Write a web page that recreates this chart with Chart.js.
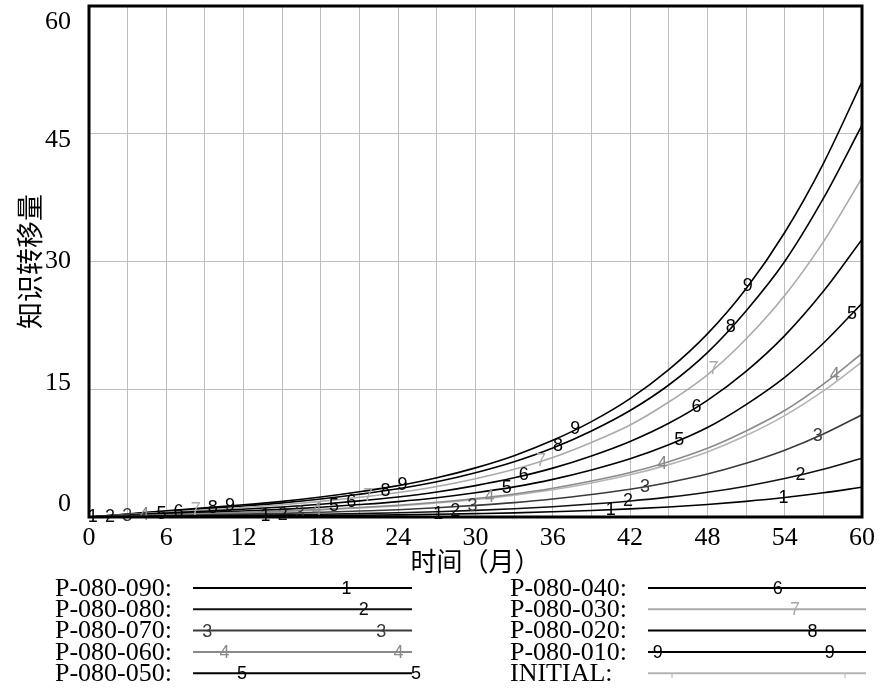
<!DOCTYPE html>
<html>
<head>
<meta charset="utf-8">
<script src="https://cdn.jsdelivr.net/npm/chart.js@4/dist/chart.umd.min.js"></script>
<style>
  html, body { margin: 0; padding: 0; background: #fff; }
  canvas { display: block; }
</style>
</head>
<body>
<canvas id="kt" width="886" height="691"></canvas>
<script>
// months on the x axis (read every 3 months)
const months = [0, 3, 6, 9, 12, 15, 18, 21, 24, 27, 30, 33, 36, 39, 42, 45, 48, 51, 54, 57, 60];

// knowledge transfer per scenario
const p090 = [0, 0.02, 0.05, 0.07, 0.1, 0.13, 0.16, 0.2, 0.25, 0.32, 0.4, 0.49, 0.62, 0.77, 0.95, 1.18, 1.47, 1.84, 2.29, 2.84, 3.5];
const p080 = [0, 0.05, 0.1, 0.14, 0.19, 0.25, 0.32, 0.4, 0.5, 0.62, 0.78, 0.97, 1.21, 1.52, 1.88, 2.33, 2.9, 3.62, 4.51, 5.6, 6.9];
const p070 = [0, 0.08, 0.17, 0.25, 0.34, 0.43, 0.55, 0.7, 0.86, 1.08, 1.36, 1.69, 2.11, 2.64, 3.26, 4.06, 5.04, 6.3, 7.84, 9.74, 12.0];
const p060 = [0, 0.13, 0.27, 0.4, 0.54, 0.69, 0.88, 1.11, 1.38, 1.73, 2.17, 2.71, 3.38, 4.22, 5.22, 6.49, 8.06, 10.1, 12.5, 15.6, 19.2];
const p050 = [0, 0.18, 0.35, 0.53, 0.7, 0.9, 1.15, 1.46, 1.81, 2.26, 2.84, 3.54, 4.42, 5.52, 6.83, 8.48, 10.5, 13.2, 16.4, 20.4, 25.1];
const p040 = [0, 0.23, 0.46, 0.68, 0.91, 1.17, 1.5, 1.89, 2.35, 2.93, 3.68, 4.6, 5.74, 7.17, 8.87, 11.0, 13.7, 17.1, 21.3, 26.5, 32.6];
const p030 = [0, 0.28, 0.56, 0.84, 1.11, 1.43, 1.83, 2.31, 2.87, 3.58, 4.5, 5.61, 7.0, 8.76, 10.8, 13.5, 16.7, 20.9, 26.0, 32.3, 39.8];
const p020 = [0, 0.32, 0.64, 0.97, 1.29, 1.66, 2.12, 2.67, 3.31, 4.14, 5.2, 6.49, 8.1, 10.1, 12.5, 15.5, 19.3, 24.2, 30.0, 37.4, 46.0];
const p010 = [0, 0.36, 0.72, 1.07, 1.43, 1.84, 2.35, 2.96, 3.68, 4.6, 5.77, 7.2, 9.0, 11.2, 13.9, 17.3, 21.5, 26.8, 33.4, 41.5, 51.1];
const initial = [0, 0.13, 0.25, 0.38, 0.51, 0.66, 0.84, 1.06, 1.31, 1.64, 2.06, 2.57, 3.2, 4.0, 4.95, 6.15, 7.64, 9.56, 11.9, 14.8, 18.2];

const seriesNames = ['P-080-090', 'P-080-080', 'P-080-070', 'P-080-060', 'P-080-050',
                     'P-080-040', 'P-080-030', 'P-080-020', 'P-080-010', 'INITIAL'];
const seriesData = [p090, p080, p070, p060, p050, p040, p030, p020, p010, initial];
const seriesNums = [1, 2, 3, 4, 5, 6, 7, 8, 9, 0];
const seriesColors = ['#000', '#111', '#3a3a3a', '#8a8a8a', '#000', '#000', '#aaaaaa', '#000', '#000', '#b4b4b4'];

const xTicks = { min: 0, max: 60, step: 3, labelEvery: 6 };
const yTickValues = [0, 15, 30, 45, 60];
// vensim nudges the y labels toward the middle
const yLabelNudge = [-13, -6, 0, 6, 16];

// value of a series at month t (straight line between read points)
function valueAt(arr, t) {
  for (let i = 1; i < months.length; i++) {
    if (t <= months[i]) {
      const f = (t - months[i - 1]) / (months[i] - months[i - 1]);
      return arr[i - 1] + f * (arr[i] - arr[i - 1]);
    }
  }
  return arr[arr.length - 1];
}

const overlay = {
  id: 'overlay',
  afterDatasetsDraw(chart) {
    const { ctx, chartArea: a, scales: { x, y } } = chart;
    ctx.save();
    // series numbers along the curves
    ctx.font = '18px "Liberation Sans"';
    ctx.textAlign = 'center';
    ctx.textBaseline = 'middle';
    seriesData.forEach((arr, i) => {
      const n = seriesNums[i];
      if (!n) return;
      ctx.fillStyle = seriesColors[i];
      for (let k = 0; k < 5; k++) {
        const t = 0.3 + 13.4 * k + 1.33 * (n - 1);
        if (t > 59.6) continue;
        ctx.fillText(String(n), x.getPixelForValue(t), y.getPixelForValue(valueAt(arr, t)));
      }
    });
    // heavy frame
    ctx.lineWidth = 3;
    ctx.strokeStyle = '#000';
    ctx.strokeRect(a.left, a.top, a.width, a.height);
    // y tick labels
    ctx.fillStyle = '#000';
    ctx.font = '26px "Liberation Serif"';
    ctx.textAlign = 'right';
    yTickValues.forEach((v, i) => {
      ctx.fillText(String(v), 71, y.getPixelForValue(v) + yLabelNudge[i]);
    });
    ctx.restore();
  },
  afterDraw(chart) {
    const ctx = chart.ctx;
    ctx.save();
    ctx.textBaseline = 'middle';
    const textX = [55, 510], lineX0 = [193, 648], lineX1 = [412, 866];
    seriesNames.forEach((name, i) => {
      const col = i < 5 ? 0 : 1;
      const rowY = 588 + 21.3 * (i % 5);
      ctx.font = '26px "Liberation Serif"';
      ctx.fillStyle = '#000';
      ctx.textAlign = 'left';
      ctx.fillText(name + ':', textX[col], rowY + 1);
      ctx.strokeStyle = seriesColors[i];
      ctx.lineWidth = 2;
      ctx.beginPath();
      ctx.moveTo(lineX0[col], rowY);
      ctx.lineTo(lineX1[col], rowY);
      ctx.stroke();
      const n = seriesNums[i];
      ctx.font = '18px "Liberation Sans"';
      ctx.textAlign = 'center';
      ctx.fillStyle = seriesColors[i];
      if (n) {
        const second = col === 0 ? 329 + 17.4 * n : 674 + 17.3 * n;
        const first = second - (col === 0 ? 174 : 172);
        [first, second].forEach(px => {
          if (px >= lineX0[col]) ctx.fillText(String(n), px, rowY + 1);
        });
      } else {
        ctx.lineWidth = 1;
        [672, 845].forEach(px => {
          ctx.beginPath();
          ctx.moveTo(px, rowY + 1);
          ctx.lineTo(px, rowY + 5);
          ctx.stroke();
        });
      }
    });
    ctx.restore();
  }
};

new Chart(document.getElementById('kt'), {
  type: 'line',
  data: {
    datasets: seriesNames.map((name, i) => ({
      label: name,
      data: months.map((m, j) => ({ x: m, y: seriesData[i][j] })),
      borderColor: seriesColors[i],
      borderWidth: 1.6,
      pointRadius: 0,
      cubicInterpolationMode: 'monotone',
      fill: false
    }))
  },
  options: {
    responsive: false,
    animation: false,
    layout: { padding: { top: 6, right: 24, bottom: 114, left: 0 } },
    plugins: { legend: { display: false }, tooltip: { enabled: false } },
    scales: {
      x: {
        type: 'linear',
        min: xTicks.min, max: xTicks.max,
        afterFit: s => { s.height = 60; s.paddingLeft = 0; s.paddingRight = 0; },
        border: { display: false },
        grid: { color: '#bdbdbd', lineWidth: 1, drawTicks: false },
        ticks: {
          stepSize: xTicks.step, autoSkip: false, maxRotation: 0, padding: 6,
          color: '#000', font: { family: 'Liberation Serif', size: 26 },
          callback: v => (v % xTicks.labelEvery === 0 ? String(v) : '')
        },
        title: {
          display: true, text: '时间（月）', color: '#000', padding: 0,
          font: { family: 'Noto Sans CJK SC', size: 26 }
        }
      },
      y: {
        min: yTickValues[0], max: yTickValues[yTickValues.length - 1],
        afterFit: s => { s.width = 89; s.paddingTop = 0; s.paddingBottom = 0; },
        border: { display: false },
        grid: { color: '#bdbdbd', lineWidth: 1, drawTicks: false },
        ticks: { stepSize: 15, display: false },
        title: {
          display: true, text: '知识转移量', color: '#000', padding: { top: 14, bottom: 0 },
          font: { family: 'Noto Sans CJK SC', size: 27 }
        }
      }
    }
  },
  plugins: [overlay]
});
</script>
</body>
</html>
